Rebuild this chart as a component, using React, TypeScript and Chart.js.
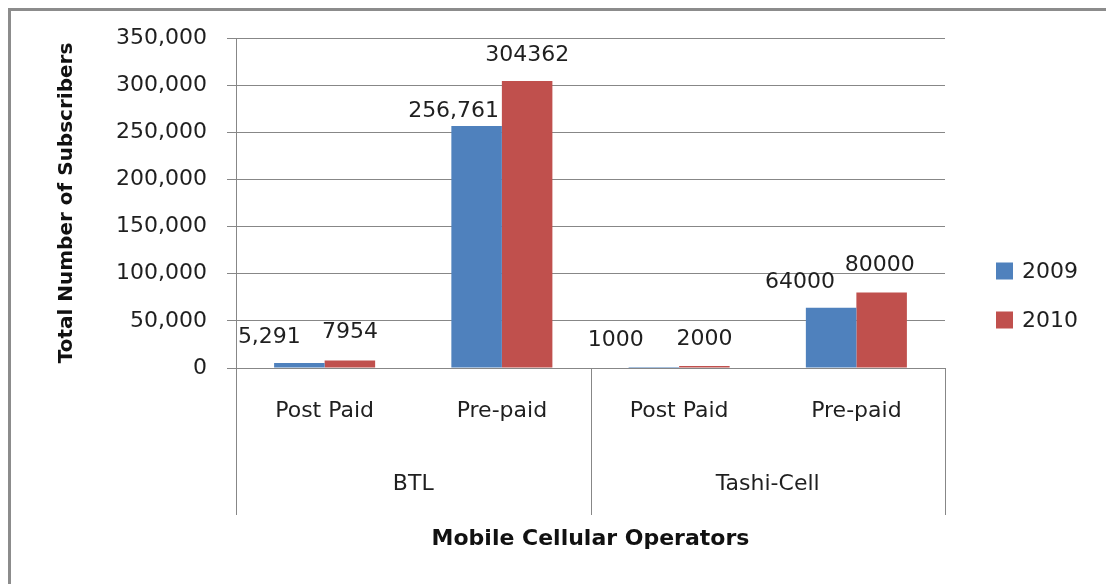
import React, { useEffect, useRef } from "react";
import { Chart, registerables } from "chart.js";

Chart.register(...registerables);

// ---- data ----
const SUB_CATEGORIES = ["Post Paid", "Pre-paid", "Post Paid", "Pre-paid"];
const OPERATORS = ["BTL", "Tashi-Cell"];
const OPERATOR_SPAN = [2, 2];
const SERIES_NAMES = ["2009", "2010"];
const VALUES_2009 = [5291, 256761, 1000, 64000];
const VALUES_2010 = [7954, 304362, 2000, 80000];
const LABELS_2009 = ["5,291", "256,761", "1000", "64000"];
const LABELS_2010 = ["7954", "304362", "2000", "80000"];
const Y_MIN = 0;
const Y_MAX = 350000;
const Y_STEP = 50000;
const Y_TITLE = "Total Number of Subscribers";
const X_TITLE = "Mobile Cellular Operators";

// ---- style ----
const COLORS = ["#4F81BD", "#C0504D"];
const TEXT = "#1f1f1f";
const GRID = "#878787";
const FONT = "'DejaVu Sans', sans-serif";
const LABEL_DX = [
  [-30, -23, -38, -31],
  [0, 0, 0, -2],
];
const LABEL_LIFT = [
  [26, 15, 27, 25],
  [28, 26, 27, 27],
];

const overlayPlugin = {
  id: "overlay",
  afterDatasetsDraw(chart: any) {
    const ctx = chart.ctx;
    const labelSets = [LABELS_2009, LABELS_2010];
    ctx.save();
    ctx.font = `22px ${FONT}`;
    ctx.fillStyle = TEXT;
    ctx.textAlign = "center";
    ctx.textBaseline = "middle";
    chart.data.datasets.forEach((_: any, i: number) => {
      const meta = chart.getDatasetMeta(i);
      meta.data.forEach((el: any, j: number) => {
        ctx.fillText(labelSets[i][j], el.x + LABEL_DX[i][j], el.y - LABEL_LIFT[i][j]);
      });
    });
    ctx.restore();
  },
  afterDraw(chart: any) {
    const ctx = chart.ctx;
    const xs = chart.scales.x;
    const area = chart.chartArea;
    const n = SUB_CATEGORIES.length;
    const bounds: number[] = [area.left];
    let idx = 0;
    OPERATOR_SPAN.forEach((span) => {
      idx += span;
      if (idx < n) {
        bounds.push((xs.getPixelForValue(idx - 1) + xs.getPixelForValue(idx)) / 2);
      } else {
        bounds.push(area.right);
      }
    });
    ctx.save();
    ctx.strokeStyle = GRID;
    ctx.lineWidth = 1;
    bounds.forEach((bx) => {
      const x = Math.round(bx) + 0.5;
      ctx.beginPath();
      ctx.moveTo(x, area.bottom);
      ctx.lineTo(x, area.bottom + 147);
      ctx.stroke();
    });
    ctx.font = `22px ${FONT}`;
    ctx.fillStyle = TEXT;
    ctx.textAlign = "center";
    ctx.textBaseline = "middle";
    OPERATORS.forEach((op, k) => {
      ctx.fillText(op, (bounds[k] + bounds[k + 1]) / 2, area.bottom + 116);
    });
    // legend
    ctx.textAlign = "left";
    chart.data.datasets.forEach((ds: any, i: number) => {
      const cy = 260 + i * 49;
      ctx.fillStyle = ds.backgroundColor;
      ctx.fillRect(985, cy - 8.5, 17, 17);
      ctx.fillStyle = TEXT;
      ctx.fillText(ds.label, 1011, cy + 1);
    });
    ctx.restore();
  },
};

export default function App() {
  const ref = useRef<HTMLCanvasElement>(null);

  useEffect(() => {
    document.documentElement.style.overflow = "hidden";
    if (!ref.current) return;
    const chart = new Chart(ref.current, {
      type: "bar",
      data: {
        labels: SUB_CATEGORIES,
        datasets: [
          { label: SERIES_NAMES[0], data: VALUES_2009, backgroundColor: COLORS[0] },
          { label: SERIES_NAMES[1], data: VALUES_2010, backgroundColor: COLORS[1] },
        ],
      },
      options: {
        responsive: false,
        animation: false,
        devicePixelRatio: 1,
        layout: { padding: { left: 0, right: 153, top: 27, bottom: 0 } },
        datasets: { bar: { categoryPercentage: 0.57, barPercentage: 1.0 } },
        plugins: {
          legend: { display: false },
          tooltip: { enabled: false },
        },
        scales: {
          x: {
            grid: { display: false, drawTicks: false },
            border: { display: false },
            ticks: { color: TEXT, font: { family: FONT, size: 22 }, padding: 30, maxRotation: 0, autoSkip: false },
            title: {
              display: true,
              text: X_TITLE,
              color: "#111",
              font: { family: FONT, size: 22, weight: "bold" },
              padding: { top: 0, bottom: 24 },
            },
            afterFit(scale: any) {
              scale.height = 208;
              scale.paddingLeft = 0;
              scale.paddingRight = 0;
            },
          },
          y: {
            min: Y_MIN,
            max: Y_MAX,
            grid: { color: GRID, lineWidth: 1, tickLength: 9, drawTicks: true },
            border: { display: true, color: GRID, width: 1 },
            ticks: {
              stepSize: Y_STEP,
              color: TEXT,
              padding: 20,
              font: { family: FONT, size: 22 },
              callback: (v: any) => Number(v).toLocaleString("en-US"),
            },
            title: {
              display: true,
              text: Y_TITLE,
              color: "#111",
              font: { family: FONT, size: 20, weight: "bold" },
              padding: { top: 44, bottom: 0 },
            },
            afterFit(scale: any) {
              scale.width = 225;
              scale.paddingTop = 0;
              scale.paddingBottom = 0;
            },
          },
        },
      },
      plugins: [overlayPlugin],
    });
    return () => chart.destroy();
  }, []);

  return (
    <div
      style={{
        position: "fixed",
        left: 8,
        top: 8,
        width: 1300,
        height: 800,
        borderLeft: "3px solid #8c8c8c",
        borderTop: "3px solid #8c8c8c",
        boxSizing: "border-box",
        background: "#fff",
      }}
    >
      <canvas ref={ref} width={1087} height={565} style={{ display: "block", width: 1087, height: 565 }} />
    </div>
  );
}
